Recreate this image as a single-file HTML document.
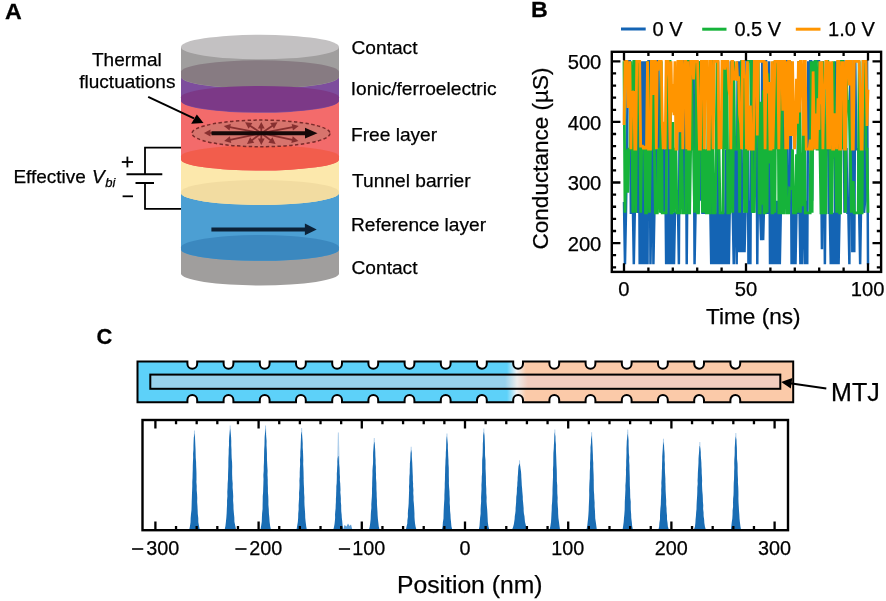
<!DOCTYPE html>
<html><head><meta charset="utf-8"><style>
html,body{margin:0;padding:0;background:#fff;}
svg{display:block;}
text{font-family:"Liberation Sans", sans-serif;fill:#000;stroke:#000;stroke-width:0.25px;}
</style></head><body>
<svg width="886" height="601" viewBox="0 0 886 601" style="will-change:transform">
<rect width="886" height="601" fill="#fff"/>
<g id="cyl">
<path d="M181.0,249.5 L181.0,273.5 A79.0,12.0 0 0 0 339.0,273.5 L339.0,249.5 Z" fill="#a09e9d"/>
<path d="M181.0,193.0 L181.0,249.5 A79.0,11.3 0 0 0 339.0,249.5 L339.0,193.0 Z" fill="#4c9fd3"/>
<path d="M181.0,159.5 L181.0,193.0 A79.0,12.0 0 0 0 339.0,193.0 L339.0,159.5 Z" fill="#fce8ac"/>
<path d="M181.0,100.8 L181.0,159.5 A79.0,11.0 0 0 0 339.0,159.5 L339.0,100.8 Z" fill="#f36b6b"/>
<path d="M181.0,76.8 L181.0,100.8 A79.0,12.0 0 0 0 339.0,100.8 L339.0,76.8 Z" fill="#7d4d9d"/>
<path d="M181.0,47.0 L181.0,76.8 A79.0,12.0 0 0 0 339.0,76.8 L339.0,47.0 Z" fill="#a09e9e"/>
<path d="M181.0,71.8 A79.0,11.5 0 0 1 339.0,71.8 L339.0,76.8 A79.0,11.5 0 0 1 181.0,76.8 Z" fill="#877b82"/>
<path d="M181.0,97.3 A79.0,11.3 0 0 1 339.0,97.3 L339.0,100.8 A79.0,11.3 0 0 1 181.0,100.8 Z" fill="#7c3987"/>
<path d="M181.0,156.5 A79.0,11.0 0 0 1 339.0,156.5 L339.0,159.5 A79.0,11.0 0 0 1 181.0,159.5 Z" fill="#f25d4c"/>
<path d="M181.0,192.0 A79.0,12.0 0 0 1 339.0,192.0 L339.0,193.0 A79.0,12.0 0 0 1 181.0,193.0 Z" fill="#f2dca1"/>
<path d="M181.0,247.5 A79.0,12.5 0 0 1 339.0,247.5 L339.0,249.5 A79.0,11.3 0 0 1 181.0,249.5 Z" fill="#3b88bf"/>
<ellipse cx="260.0" cy="47.0" rx="79.0" ry="12.2" fill="#c3c1c2" />
<ellipse cx="261" cy="133.4" rx="69" ry="13.3" fill="#d7746d" stroke="#7a2a2a" stroke-width="1.5" stroke-dasharray="3.4 2.4"/>
<line x1="261.3" y1="133.2" x2="210.00" y2="133.02" stroke="#873030" stroke-width="1.8"/>
<polygon points="204.00,133.00 210.51,129.62 210.49,136.42" fill="#873030"/>
<line x1="261.3" y1="133.2" x2="229.69" y2="127.13" stroke="#873030" stroke-width="1.8"/>
<polygon points="223.80,126.00 230.82,123.89 229.54,130.56" fill="#873030"/>
<line x1="261.3" y1="133.2" x2="250.08" y2="125.65" stroke="#873030" stroke-width="1.8"/>
<polygon points="245.10,122.30 252.39,123.11 248.59,128.75" fill="#873030"/>
<line x1="261.3" y1="133.2" x2="261.30" y2="128.00" stroke="#873030" stroke-width="1.8"/>
<polygon points="261.30,122.00 264.70,128.50 257.90,128.50" fill="#873030"/>
<line x1="261.3" y1="133.2" x2="272.52" y2="125.65" stroke="#873030" stroke-width="1.8"/>
<polygon points="277.50,122.30 274.01,128.75 270.21,123.11" fill="#873030"/>
<line x1="261.3" y1="133.2" x2="292.81" y2="127.13" stroke="#873030" stroke-width="1.8"/>
<polygon points="298.70,126.00 292.96,130.57 291.67,123.89" fill="#873030"/>
<line x1="261.3" y1="133.2" x2="230.07" y2="139.77" stroke="#873030" stroke-width="1.8"/>
<polygon points="224.20,141.00 229.86,136.34 231.26,142.99" fill="#873030"/>
<line x1="261.3" y1="133.2" x2="251.79" y2="140.38" stroke="#873030" stroke-width="1.8"/>
<polygon points="247.00,144.00 250.14,137.37 254.24,142.80" fill="#873030"/>
<line x1="261.3" y1="133.2" x2="261.30" y2="139.00" stroke="#873030" stroke-width="1.8"/>
<polygon points="261.30,145.00 257.90,138.50 264.70,138.50" fill="#873030"/>
<line x1="261.3" y1="133.2" x2="270.81" y2="140.38" stroke="#873030" stroke-width="1.8"/>
<polygon points="275.60,144.00 268.36,142.80 272.46,137.37" fill="#873030"/>
<line x1="261.3" y1="133.2" x2="292.53" y2="139.77" stroke="#873030" stroke-width="1.8"/>
<polygon points="298.40,141.00 291.34,142.99 292.74,136.34" fill="#873030"/>
<line x1="211.5" y1="133.2" x2="306" y2="133.2" stroke="#160808" stroke-width="4"/>
<polygon points="317.5,133.2 305,127.8 305,138.6" fill="#160808"/>
<line x1="211.4" y1="229.4" x2="306" y2="229.4" stroke="#0c2238" stroke-width="4"/>
<polygon points="316.7,229.4 304.9,223.6 304.9,235.2" fill="#0c2238"/>
</g>
<line x1="148.2" y1="96.8" x2="194" y2="118.3" stroke="#000" stroke-width="2"/>
<polygon points="203.5,123 191.2,123.8 196.8,114.4" fill="#000"/>
<polyline points="181,147.6 145,147.6 145,174.3" fill="none" stroke="#000" stroke-width="1.8"/>
<polyline points="181,208.8 145,208.8 145,183" fill="none" stroke="#000" stroke-width="1.8"/>
<line x1="126.5" y1="174.3" x2="162.3" y2="174.3" stroke="#000" stroke-width="2"/>
<line x1="135.5" y1="183" x2="154" y2="183" stroke="#000" stroke-width="2"/>
<line x1="121.8" y1="162" x2="133" y2="162" stroke="#000" stroke-width="1.8"/>
<line x1="127.4" y1="156.6" x2="127.4" y2="167.4" stroke="#000" stroke-width="1.8"/>
<line x1="122.6" y1="196.3" x2="133" y2="196.3" stroke="#000" stroke-width="1.8"/>
<text transform="translate(5.00,19.2) scale(1.08,1)" font-size="21.5" font-weight="bold" >A</text>
<text x="92.01" y="65.7" font-size="19" >Thermal</text>
<text x="79.31" y="88.4" font-size="19" >fluctuations</text>
<text x="13.38" y="182.9" font-size="19" >Effective</text>
<text x="91.89" y="182.9" font-size="19" font-style="italic" >V</text>
<text x="105.24" y="186.8" font-size="13" font-style="italic" >bi</text>
<text x="351.54" y="54.0" font-size="19.15" >Contact</text>
<text x="350.78" y="94.9" font-size="19.15" >Ionic/ferroelectric</text>
<text x="350.97" y="140.5" font-size="19.15" >Free layer</text>
<text x="352.12" y="186.6" font-size="19.15" >Tunnel barrier</text>
<text x="350.97" y="230.9" font-size="19.15" >Reference layer</text>
<text x="351.54" y="273.9" font-size="19.15" >Contact</text>
<clipPath id="clipB"><rect x="611.8" y="51.8" width="269.30000000000007" height="220.09999999999997"/></clipPath>
<g clip-path="url(#clipB)" fill="none" stroke-width="2.8" stroke-linejoin="miter" stroke-miterlimit="2">
<polyline points="624.00,201.9 624.98,264.3 625.96,212.8 626.94,149.2 627.92,61.3 628.90,61.3 629.88,61.3 630.86,212.8 631.84,212.8 632.82,200.7 633.80,264.3 634.78,212.8 635.76,61.3 636.74,200.7 637.72,212.8 638.70,61.3 639.68,264.3 640.66,61.3 641.64,264.3 642.62,61.3 643.60,264.3 644.58,61.3 645.56,264.3 646.54,61.3 647.52,264.3 648.50,61.3 649.48,61.3 650.46,264.3 651.44,200.7 652.42,61.3 653.40,264.3 654.38,212.8 655.36,149.2 656.34,200.7 657.32,61.3 658.30,61.3 659.28,149.2 660.26,149.2 661.24,212.8 662.22,149.2 663.20,149.2 664.18,212.8 665.16,149.2 666.14,264.3 667.12,212.8 668.10,264.3 669.08,61.3 670.06,264.3 671.04,212.8 672.02,264.3 673.00,212.8 673.98,264.3 674.96,212.8 675.94,212.8 676.92,212.8 677.90,200.7 678.88,264.3 679.86,61.3 680.84,200.7 681.82,61.3 682.80,61.3 683.78,212.8 684.76,61.3 685.73,61.3 686.71,264.3 687.69,149.2 688.67,61.3 689.65,61.3 690.63,149.2 691.61,61.3 692.59,61.3 693.57,61.3 694.55,264.3 695.53,212.8 696.51,61.3 697.49,200.7 698.47,212.8 699.45,61.3 700.43,200.7 701.41,149.2 702.39,212.8 703.37,212.8 704.35,212.8 705.33,200.7 706.31,200.7 707.29,212.8 708.27,200.7 709.25,200.7 710.23,200.7 711.21,264.3 712.19,61.3 713.17,264.3 714.15,212.8 715.13,264.3 716.11,212.8 717.09,264.3 718.07,61.3 719.05,264.3 720.03,212.8 721.01,264.3 721.99,212.8 722.97,264.3 723.95,212.8 724.93,264.3 725.91,149.2 726.89,264.3 727.87,149.2 728.85,264.3 729.83,200.7 730.81,61.3 731.79,200.7 732.77,212.8 733.75,264.3 734.73,149.2 735.71,200.7 736.69,264.3 737.67,61.3 738.65,252.2 739.63,61.3 740.61,252.2 741.59,149.2 742.57,252.2 743.55,212.8 744.53,252.2 745.51,212.8 746.49,61.3 747.47,61.3 748.45,264.3 749.43,200.7 750.41,264.3 751.39,61.3 752.37,61.3 753.35,212.8 754.33,149.2 755.31,61.3 756.29,61.3 757.27,264.3 758.25,149.2 759.23,149.2 760.21,212.8 761.19,240.1 762.17,61.3 763.15,240.1 764.13,200.7 765.11,61.3 766.09,61.3 767.07,212.8 768.05,212.8 769.03,61.3 770.01,264.3 770.99,149.2 771.97,264.3 772.95,149.2 773.93,264.3 774.91,200.7 775.89,264.3 776.87,200.7 777.85,264.3 778.83,212.8 779.81,264.3 780.79,212.8 781.77,149.2 782.75,212.8 783.73,212.8 784.71,61.3 785.69,61.3 786.67,61.3 787.65,212.8 788.63,200.7 789.61,200.7 790.59,61.3 791.57,264.3 792.55,212.8 793.53,264.3 794.51,212.8 795.49,264.3 796.47,212.8 797.45,212.8 798.43,61.3 799.41,200.7 800.39,264.3 801.37,200.7 802.35,264.3 803.33,149.2 804.31,212.8 805.29,264.3 806.27,200.7 807.24,264.3 808.22,61.3 809.20,149.2 810.18,61.3 811.16,61.3 812.14,200.7 813.12,61.3 814.10,149.2 815.08,61.3 816.06,61.3 817.04,61.3 818.02,61.3 819.00,61.3 819.98,149.2 820.96,149.2 821.94,249.2 822.92,61.3 823.90,149.2 824.88,264.3 825.86,149.2 826.84,149.2 827.82,61.3 828.80,212.8 829.78,212.8 830.76,264.3 831.74,212.8 832.72,264.3 833.70,212.8 834.68,264.3 835.66,61.3 836.64,264.3 837.62,61.3 838.60,264.3 839.58,212.8 840.56,200.7 841.54,61.3 842.52,61.3 843.50,61.3 844.48,212.8 845.46,149.2 846.44,149.2 847.42,212.8 848.40,212.8 849.38,264.3 850.36,61.3 851.34,61.3 852.32,252.2 853.30,149.2 854.28,252.2 855.26,61.3 856.24,149.2 857.22,149.2 858.20,149.2 859.18,212.8 860.16,264.3 861.14,200.7 862.12,200.7 863.10,61.3 864.08,212.8 865.06,200.7 866.04,61.3 867.02,61.3 868.00,264.3" stroke="#1464b4" stroke-width="2.5"/>
<polyline points="624.00,61.3 624.98,212.8 625.96,149.2 626.94,191.4 627.92,191.4 628.90,149.2 629.88,149.2 630.86,61.3 631.84,105.2 632.82,212.8 633.80,61.3 634.78,61.3 635.76,212.8 636.74,114.6 637.72,61.3 638.70,61.3 639.68,117.4 640.66,212.8 641.64,149.2 642.62,149.2 643.60,149.2 644.58,149.2 645.56,212.8 646.54,212.8 647.52,61.3 648.50,84.5 649.48,212.8 650.46,149.2 651.44,149.2 652.42,61.3 653.40,61.3 654.38,149.2 655.36,212.8 656.34,212.8 657.32,212.8 658.30,149.2 659.28,149.2 660.26,212.8 661.24,61.3 662.22,212.8 663.20,212.8 664.18,212.8 665.16,212.8 666.14,212.8 667.12,71.8 668.10,61.3 669.08,61.3 670.06,61.3 671.04,212.8 672.02,212.8 673.00,122.1 673.98,212.8 674.96,149.2 675.94,149.2 676.92,212.8 677.90,212.8 678.88,212.8 679.86,212.8 680.84,132.8 681.82,149.2 682.80,212.8 683.78,212.8 684.76,212.8 685.73,212.8 686.71,61.3 687.69,61.3 688.67,212.8 689.65,212.8 690.63,149.2 691.61,61.3 692.59,149.2 693.57,149.2 694.55,212.8 695.53,149.2 696.51,61.3 697.49,212.8 698.47,212.8 699.45,106.0 700.43,61.3 701.41,73.6 702.39,212.8 703.37,74.1 704.35,212.8 705.33,149.2 706.31,212.8 707.29,212.8 708.27,80.6 709.25,212.8 710.23,212.8 711.21,61.3 712.19,61.3 713.17,212.8 714.15,212.8 715.13,212.8 716.11,149.2 717.09,61.3 718.07,149.2 719.05,149.2 720.03,212.8 721.01,212.8 721.99,212.8 722.97,212.8 723.95,61.3 724.93,61.3 725.91,149.2 726.89,61.3 727.87,212.8 728.85,212.8 729.83,212.8 730.81,130.0 731.79,61.3 732.77,212.8 733.75,61.3 734.73,149.2 735.71,149.2 736.69,149.2 737.67,149.2 738.65,80.9 739.63,212.8 740.61,88.2 741.59,61.3 742.57,61.3 743.55,61.3 744.53,212.8 745.51,149.2 746.49,212.8 747.47,149.2 748.45,61.3 749.43,61.3 750.41,61.3 751.39,61.3 752.37,212.8 753.35,203.3 754.33,212.8 755.31,149.2 756.29,108.5 757.27,135.8 758.25,61.3 759.23,212.8 760.21,212.8 761.19,101.8 762.17,204.8 763.15,90.3 764.13,212.8 765.11,212.8 766.09,141.9 767.07,212.8 768.05,73.3 769.03,149.2 770.01,163.3 770.99,149.2 771.97,212.8 772.95,212.8 773.93,61.3 774.91,212.8 775.89,61.3 776.87,149.2 777.85,61.3 778.83,212.8 779.81,212.8 780.79,212.8 781.77,61.3 782.75,212.8 783.73,212.8 784.71,149.2 785.69,149.2 786.67,212.8 787.65,212.8 788.63,212.8 789.61,188.2 790.59,188.7 791.57,188.7 792.55,149.2 793.53,212.8 794.51,212.8 795.49,212.8 796.47,154.2 797.45,212.8 798.43,123.2 799.41,61.3 800.39,212.8 801.37,152.4 802.35,206.3 803.33,107.9 804.31,118.4 805.29,212.8 806.27,212.8 807.24,212.8 808.22,212.8 809.20,212.8 810.18,212.8 811.16,61.3 812.14,212.8 813.12,61.3 814.10,149.2 815.08,61.3 816.06,61.3 817.04,149.2 818.02,149.2 819.00,61.3 819.98,149.3 820.96,212.8 821.94,212.8 822.92,61.3 823.90,212.8 824.88,212.8 825.86,212.8 826.84,61.3 827.82,61.3 828.80,143.1 829.78,143.1 830.76,212.8 831.74,212.8 832.72,149.2 833.70,61.3 834.68,149.2 835.66,158.3 836.64,212.8 837.62,61.3 838.60,117.2 839.58,212.8 840.56,212.8 841.54,61.3 842.52,61.3 843.50,149.2 844.48,71.7 845.46,212.8 846.44,78.4 847.42,101.3 848.40,101.3 849.38,118.2 850.36,149.2 851.34,212.8 852.32,182.4 853.30,182.4 854.28,212.8 855.26,212.8 856.24,212.8 857.22,212.8 858.20,212.8 859.18,61.3 860.16,212.8 861.14,212.8 862.12,212.8 863.10,61.3 864.08,61.3 865.06,61.3 866.04,149.2 867.02,149.2 868.00,212.8" stroke="#16b33a" stroke-width="2.8"/>
<polyline points="624.00,124.9 624.98,61.3 625.96,61.3 626.94,61.3 627.92,106.5 628.90,106.5 629.88,61.3 630.86,149.2 631.84,92.5 632.82,92.5 633.80,91.2 634.78,149.2 635.76,149.2 636.74,61.3 637.72,61.3 638.70,61.3 639.68,61.3 640.66,146.1 641.64,146.1 642.62,146.1 643.60,149.2 644.58,146.1 645.56,149.2 646.54,146.1 647.52,61.3 648.50,149.2 649.48,149.2 650.46,149.2 651.44,61.3 652.42,61.3 653.40,95.0 654.38,61.3 655.36,61.3 656.34,149.2 657.32,61.3 658.30,70.5 659.28,61.3 660.26,61.3 661.24,61.3 662.22,121.9 663.20,149.2 664.18,121.9 665.16,149.2 666.14,61.3 667.12,61.3 668.10,61.3 669.08,79.2 670.06,149.2 671.04,61.3 672.02,112.4 673.00,84.1 673.98,115.2 674.96,61.3 675.94,149.2 676.92,149.2 677.90,61.3 678.88,61.3 679.86,132.3 680.84,61.3 681.82,61.3 682.80,149.2 683.78,87.5 684.76,61.3 685.73,61.3 686.71,149.2 687.69,61.3 688.67,149.2 689.65,149.2 690.63,61.3 691.61,61.3 692.59,61.3 693.57,79.4 694.55,61.3 695.53,61.3 696.51,61.3 697.49,61.3 698.47,107.1 699.45,149.2 700.43,149.2 701.41,61.3 702.39,61.3 703.37,61.3 704.35,149.2 705.33,61.3 706.31,61.3 707.29,61.3 708.27,149.2 709.25,149.2 710.23,61.3 711.21,61.3 712.19,101.5 713.17,149.2 714.15,61.3 715.13,61.3 716.11,61.3 717.09,61.3 718.07,61.3 719.05,149.2 720.03,134.4 721.01,149.2 721.99,61.3 722.97,61.3 723.95,61.3 724.93,69.6 725.91,61.3 726.89,61.3 727.87,61.3 728.85,89.0 729.83,95.7 730.81,149.2 731.79,61.3 732.77,61.3 733.75,79.1 734.73,79.1 735.71,79.1 736.69,61.3 737.67,80.9 738.65,76.4 739.63,114.9 740.61,123.5 741.59,149.2 742.57,61.3 743.55,61.3 744.53,76.9 745.51,76.9 746.49,149.2 747.47,61.3 748.45,149.2 749.43,149.2 750.41,105.6 751.39,149.2 752.37,149.2 753.35,149.2 754.33,61.3 755.31,61.3 756.29,61.3 757.27,135.6 758.25,61.3 759.23,61.3 760.21,61.3 761.19,61.3 762.17,61.3 763.15,61.3 764.13,61.3 765.11,149.2 766.09,61.3 767.07,78.9 768.05,93.3 769.03,81.9 770.01,149.2 770.99,149.2 771.97,61.3 772.95,149.2 773.93,103.8 774.91,61.3 775.89,61.3 776.87,61.3 777.85,61.3 778.83,149.2 779.81,61.3 780.79,61.3 781.77,61.3 782.75,110.8 783.73,61.3 784.71,61.3 785.69,149.2 786.67,61.3 787.65,149.2 788.63,61.3 789.61,61.3 790.59,134.5 791.57,134.5 792.55,61.3 793.53,116.2 794.51,149.2 795.49,134.0 796.47,78.7 797.45,123.7 798.43,61.3 799.41,112.4 800.39,61.3 801.37,61.3 802.35,89.0 803.33,135.8 804.31,61.3 805.29,61.3 806.27,149.2 807.24,149.2 808.22,149.2 809.20,149.2 810.18,139.7 811.16,149.2 812.14,149.2 813.12,71.4 814.10,125.3 815.08,149.2 816.06,113.5 817.04,149.2 818.02,98.2 819.00,129.9 819.98,61.3 820.96,104.3 821.94,61.3 822.92,149.2 823.90,88.0 824.88,88.0 825.86,61.3 826.84,61.3 827.82,149.2 828.80,61.3 829.78,149.2 830.76,81.8 831.74,61.3 832.72,149.2 833.70,149.2 834.68,114.7 835.66,114.7 836.64,149.2 837.62,61.3 838.60,61.3 839.58,149.2 840.56,149.2 841.54,61.3 842.52,100.1 843.50,61.3 844.48,149.2 845.46,149.2 846.44,61.3 847.42,61.3 848.40,61.3 849.38,85.5 850.36,61.3 851.34,61.3 852.32,149.2 853.30,149.2 854.28,61.3 855.26,61.3 856.24,61.3 857.22,61.3 858.20,61.3 859.18,61.3 860.16,94.4 861.14,149.2 862.12,149.2 863.10,61.3 864.08,61.3 865.06,61.3 866.04,61.3 867.02,125.9 868.00,89.8" stroke="#ff9500" stroke-width="2.8"/>
</g>
<rect x="611.8" y="51.8" width="269.3" height="220.1" fill="none" stroke="#000" stroke-width="2.4"/>
<path d="M624.00,271.9 v-8.6 M624.00,51.8 v8.6 M648.40,271.9 v-4.3 M648.40,51.8 v4.3 M672.80,271.9 v-4.3 M672.80,51.8 v4.3 M697.20,271.9 v-4.3 M697.20,51.8 v4.3 M721.60,271.9 v-4.3 M721.60,51.8 v4.3 M746.00,271.9 v-8.6 M746.00,51.8 v8.6 M770.40,271.9 v-4.3 M770.40,51.8 v4.3 M794.80,271.9 v-4.3 M794.80,51.8 v4.3 M819.20,271.9 v-4.3 M819.20,51.8 v4.3 M843.60,271.9 v-4.3 M843.60,51.8 v4.3 M868.00,271.9 v-8.6 M868.00,51.8 v8.6 M611.8,267.34 h4.3 M881.1,267.34 h-4.3 M611.8,255.22 h4.3 M881.1,255.22 h-4.3 M611.8,243.10 h8.6 M881.1,243.10 h-8.6 M611.8,230.98 h4.3 M881.1,230.98 h-4.3 M611.8,218.86 h4.3 M881.1,218.86 h-4.3 M611.8,206.74 h4.3 M881.1,206.74 h-4.3 M611.8,194.62 h4.3 M881.1,194.62 h-4.3 M611.8,182.50 h8.6 M881.1,182.50 h-8.6 M611.8,170.38 h4.3 M881.1,170.38 h-4.3 M611.8,158.26 h4.3 M881.1,158.26 h-4.3 M611.8,146.14 h4.3 M881.1,146.14 h-4.3 M611.8,134.02 h4.3 M881.1,134.02 h-4.3 M611.8,121.90 h8.6 M881.1,121.90 h-8.6 M611.8,109.78 h4.3 M881.1,109.78 h-4.3 M611.8,97.66 h4.3 M881.1,97.66 h-4.3 M611.8,85.54 h4.3 M881.1,85.54 h-4.3 M611.8,73.42 h4.3 M881.1,73.42 h-4.3 M611.8,61.30 h8.6 M881.1,61.30 h-8.6" stroke="#000" stroke-width="2.3" fill="none"/>
<text x="567.67" y="250.7" font-size="20.2" >200</text>
<text x="567.67" y="190.1" font-size="20.2" >300</text>
<text x="567.67" y="129.5" font-size="20.2" >400</text>
<text x="567.67" y="68.9" font-size="20.2" >500</text>
<text x="618.34" y="296.0" font-size="20.2" >0</text>
<text x="734.79" y="296.0" font-size="20.2" >50</text>
<text x="850.73" y="296.0" font-size="20.2" >100</text>
<text x="706.05" y="324.2" font-size="22.6" >Time (ns)</text>
<text transform="translate(548.4,158.5) rotate(-90)" font-size="22.5" text-anchor="middle">Conductance (µS)</text>
<line x1="621" y1="29" x2="645.7" y2="29" stroke="#1464b4" stroke-width="3"/>
<line x1="702.2" y1="29.2" x2="726.5" y2="29.2" stroke="#16b33a" stroke-width="3"/>
<line x1="795.8" y1="29.2" x2="820.5" y2="29.2" stroke="#ff9500" stroke-width="3"/>
<text x="652.50" y="36.3" font-size="20" >0 V</text>
<text x="734.40" y="36.3" font-size="20" >0.5 V</text>
<text x="828.10" y="36.3" font-size="20" >1.0 V</text>
<text transform="translate(531.07,17.2) scale(1.08,1)" font-size="21.5" font-weight="bold" >B</text>
<text transform="translate(96.62,344.2) scale(1.02,1)" font-size="21.5" font-weight="bold" >C</text>
<defs><linearGradient id="gw" gradientUnits="userSpaceOnUse" x1="137" y1="0" x2="793" y2="0"><stop offset="0.5640" stop-color="#5dd1f9"/><stop offset="0.5785" stop-color="#eef3f6"/><stop offset="0.5930" stop-color="#fbcaa9"/></linearGradient><linearGradient id="gi" gradientUnits="userSpaceOnUse" x1="137" y1="0" x2="793" y2="0"><stop offset="0.5610" stop-color="#98d2ec"/><stop offset="0.5793" stop-color="#eeeceb"/><stop offset="0.5960" stop-color="#f2cdbf"/></linearGradient></defs>
<path d="M137.5,361.5 L187.40,361.5 L187.40,363.8 A4.9,4.9 0 0 0 197.20,363.8 L197.20,361.5 L223.60,361.5 L223.60,363.8 A4.9,4.9 0 0 0 233.40,363.8 L233.40,361.5 L259.80,361.5 L259.80,363.8 A4.9,4.9 0 0 0 269.60,363.8 L269.60,361.5 L296.00,361.5 L296.00,363.8 A4.9,4.9 0 0 0 305.80,363.8 L305.80,361.5 L332.20,361.5 L332.20,363.8 A4.9,4.9 0 0 0 342.00,363.8 L342.00,361.5 L368.40,361.5 L368.40,363.8 A4.9,4.9 0 0 0 378.20,363.8 L378.20,361.5 L404.60,361.5 L404.60,363.8 A4.9,4.9 0 0 0 414.40,363.8 L414.40,361.5 L440.80,361.5 L440.80,363.8 A4.9,4.9 0 0 0 450.60,363.8 L450.60,361.5 L477.00,361.5 L477.00,363.8 A4.9,4.9 0 0 0 486.80,363.8 L486.80,361.5 L513.20,361.5 L513.20,363.8 A4.9,4.9 0 0 0 523.00,363.8 L523.00,361.5 L549.40,361.5 L549.40,363.8 A4.9,4.9 0 0 0 559.20,363.8 L559.20,361.5 L585.60,361.5 L585.60,363.8 A4.9,4.9 0 0 0 595.40,363.8 L595.40,361.5 L621.80,361.5 L621.80,363.8 A4.9,4.9 0 0 0 631.60,363.8 L631.60,361.5 L658.00,361.5 L658.00,363.8 A4.9,4.9 0 0 0 667.80,363.8 L667.80,361.5 L694.20,361.5 L694.20,363.8 A4.9,4.9 0 0 0 704.00,363.8 L704.00,361.5 L730.40,361.5 L730.40,363.8 A4.9,4.9 0 0 0 740.20,363.8 L740.20,361.5 L793.2,361.5 L793.2,402.2 L740.20,402.2 L740.20,399.9 A4.9,4.9 0 0 0 730.40,399.9 L730.40,402.2 L704.00,402.2 L704.00,399.9 A4.9,4.9 0 0 0 694.20,399.9 L694.20,402.2 L667.80,402.2 L667.80,399.9 A4.9,4.9 0 0 0 658.00,399.9 L658.00,402.2 L631.60,402.2 L631.60,399.9 A4.9,4.9 0 0 0 621.80,399.9 L621.80,402.2 L595.40,402.2 L595.40,399.9 A4.9,4.9 0 0 0 585.60,399.9 L585.60,402.2 L559.20,402.2 L559.20,399.9 A4.9,4.9 0 0 0 549.40,399.9 L549.40,402.2 L523.00,402.2 L523.00,399.9 A4.9,4.9 0 0 0 513.20,399.9 L513.20,402.2 L486.80,402.2 L486.80,399.9 A4.9,4.9 0 0 0 477.00,399.9 L477.00,402.2 L450.60,402.2 L450.60,399.9 A4.9,4.9 0 0 0 440.80,399.9 L440.80,402.2 L414.40,402.2 L414.40,399.9 A4.9,4.9 0 0 0 404.60,399.9 L404.60,402.2 L378.20,402.2 L378.20,399.9 A4.9,4.9 0 0 0 368.40,399.9 L368.40,402.2 L342.00,402.2 L342.00,399.9 A4.9,4.9 0 0 0 332.20,399.9 L332.20,402.2 L305.80,402.2 L305.80,399.9 A4.9,4.9 0 0 0 296.00,399.9 L296.00,402.2 L269.60,402.2 L269.60,399.9 A4.9,4.9 0 0 0 259.80,399.9 L259.80,402.2 L233.40,402.2 L233.40,399.9 A4.9,4.9 0 0 0 223.60,399.9 L223.60,402.2 L197.20,402.2 L197.20,399.9 A4.9,4.9 0 0 0 187.40,399.9 L187.40,402.2 L137.5,402.2 Z" fill="url(#gw)" stroke="#000" stroke-width="2"/>
<rect x="150.3" y="374.6" width="630" height="14.2" fill="url(#gi)" stroke="#000" stroke-width="2"/>
<line x1="826.3" y1="388.4" x2="790" y2="383.3" stroke="#000" stroke-width="2"/>
<polygon points="781.2,382.1 792.3,377.9 790.8,388.6" fill="#000"/>
<text x="831.10" y="400.8" font-size="25" >MTJ</text>
<clipPath id="clipH"><rect x="142.5" y="420.0" width="645.5" height="110.20000000000005"/></clipPath>
<g clip-path="url(#clipH)">
<polygon points="192.60,480.40 194.00,430.60 194.90,430.60 196.40,480.40" fill="#9cc3e6" opacity="0.8"/>
<polygon points="189.10,530.20 189.94,526.18 190.54,522.15 190.66,518.12 191.00,514.10 191.47,510.08 191.60,506.05 191.70,502.03 191.85,498.00 191.96,493.98 192.14,489.95 192.30,485.93 192.27,481.90 192.59,477.88 192.66,473.85 192.78,469.83 192.79,465.80 192.93,461.78 193.21,457.75 193.08,453.73 193.51,449.70 193.54,445.68 193.67,441.65 193.84,437.62 194.43,433.60 194.54,433.60 194.97,437.62 195.13,441.65 195.28,445.68 195.49,449.70 195.56,453.73 195.65,457.75 196.08,461.78 196.16,465.80 196.33,469.83 196.44,473.85 196.43,477.88 196.40,481.90 196.73,485.93 196.68,489.95 197.06,493.98 197.25,498.00 197.16,502.03 197.45,506.05 197.64,510.08 197.79,514.10 198.27,518.12 198.34,522.15 199.07,526.18 199.88,530.20" fill="#1a6db4"/>
<polygon points="228.30,477.80 229.70,425.40 230.60,425.40 232.10,477.80" fill="#9cc3e6" opacity="0.8"/>
<polygon points="224.51,530.20 225.43,525.96 225.92,521.72 226.35,517.48 226.64,513.23 226.81,508.99 227.05,504.75 227.04,500.51 227.41,496.27 227.29,492.03 227.55,487.78 227.65,483.54 227.99,479.30 228.04,475.06 228.20,470.82 228.39,466.57 228.39,462.33 228.46,458.09 228.69,453.85 228.70,449.61 228.99,445.37 228.96,441.12 229.24,436.88 229.68,432.64 230.09,428.40 230.11,428.40 230.64,432.64 231.09,436.88 231.26,441.12 231.18,445.37 231.43,449.61 231.45,453.85 231.61,458.09 232.07,462.33 232.20,466.57 232.11,470.82 232.15,475.06 232.29,479.30 232.69,483.54 232.62,487.78 233.00,492.03 233.23,496.27 233.08,500.51 233.45,504.75 233.53,508.99 233.90,513.23 234.33,517.48 234.43,521.72 235.30,525.96 236.18,530.20" fill="#1a6db4"/>
<polygon points="263.70,477.80 265.10,425.40 266.00,425.40 267.50,477.80" fill="#9cc3e6" opacity="0.8"/>
<polygon points="260.35,530.20 261.11,525.96 261.75,521.72 261.91,517.48 262.10,513.23 262.57,508.99 262.60,504.75 262.72,500.51 262.74,496.27 263.10,492.03 263.23,487.78 263.38,483.54 263.51,479.30 263.39,475.06 263.74,470.82 263.72,466.57 263.96,462.33 264.00,458.09 264.13,453.85 264.23,449.61 264.54,445.37 264.62,441.12 264.70,436.88 265.10,432.64 265.39,428.40 265.48,428.40 265.94,432.64 266.17,436.88 266.53,441.12 266.44,445.37 266.71,449.61 266.93,453.85 266.96,458.09 267.09,462.33 267.27,466.57 267.57,470.82 267.38,475.06 267.75,479.30 267.74,483.54 267.92,487.78 267.92,492.03 268.26,496.27 268.41,500.51 268.39,504.75 268.76,508.99 268.91,513.23 269.32,517.48 269.60,521.72 270.17,525.96 271.00,530.20" fill="#1a6db4"/>
<polygon points="299.80,479.10 301.20,428.00 302.10,428.00 303.60,479.10" fill="#9cc3e6" opacity="0.8"/>
<polygon points="296.46,530.20 297.13,526.07 297.82,521.93 298.16,517.80 298.23,513.67 298.64,509.53 298.59,505.40 298.86,501.27 299.11,497.13 299.04,493.00 299.39,488.87 299.52,484.73 299.41,480.60 299.77,476.47 299.73,472.33 299.88,468.20 300.17,464.07 299.97,459.93 300.41,455.80 300.38,451.67 300.69,447.53 300.78,443.40 300.93,439.27 301.02,435.13 301.50,431.00 301.45,431.00 302.08,435.13 302.37,439.27 302.67,443.40 302.61,447.53 303.01,451.67 303.16,455.80 303.28,459.93 303.13,464.07 303.35,468.20 303.48,472.33 303.55,476.47 303.69,480.60 303.84,484.73 304.08,488.87 304.10,493.00 304.44,497.13 304.38,501.27 304.53,505.40 304.84,509.53 305.13,513.67 305.23,517.80 305.67,521.93 306.17,526.07 306.93,530.20" fill="#1a6db4"/>
<polygon points="336.50,491.10 337.90,432.40 338.80,432.40 340.30,491.10" fill="#9cc3e6" opacity="0.8"/>
<polygon points="333.13,530.20 334.00,527.07 334.54,523.93 334.88,520.80 335.13,517.67 335.03,514.53 335.27,511.40 335.61,508.27 335.68,505.13 335.89,502.00 335.90,498.87 336.11,495.73 336.19,492.60 336.37,489.47 336.37,486.33 336.75,483.20 336.84,480.07 336.89,476.93 336.82,473.80 337.02,470.67 337.22,467.53 337.49,464.40 337.41,461.27 337.66,458.13 338.47,455.00 338.42,455.00 338.69,458.13 338.94,461.27 339.08,464.40 339.40,467.53 339.57,470.67 339.61,473.80 339.95,476.93 339.78,480.07 340.19,483.20 340.31,486.33 340.45,489.47 340.36,492.60 340.69,495.73 340.86,498.87 340.82,502.00 341.18,505.13 341.19,508.27 341.29,511.40 341.64,514.53 341.81,517.67 342.19,520.80 342.46,523.93 342.77,527.07 343.69,530.20" fill="#1a6db4"/>
<polygon points="372.40,484.15 373.80,438.10 374.70,438.10 376.20,484.15" fill="#9cc3e6" opacity="0.8"/>
<polygon points="368.85,530.20 369.72,526.49 370.25,522.78 370.66,519.06 370.78,515.35 370.97,511.64 371.36,507.93 371.31,504.21 371.56,500.50 371.85,496.79 371.99,493.08 371.99,489.36 372.14,485.65 372.23,481.94 372.37,478.23 372.52,474.51 372.47,470.80 372.72,467.09 373.03,463.38 373.14,459.66 373.06,455.95 373.16,452.24 373.53,448.53 373.79,444.81 374.28,441.10 374.22,441.10 374.79,444.81 375.10,448.53 375.26,452.24 375.30,455.95 375.56,459.66 375.55,463.38 375.86,467.09 375.83,470.80 376.05,474.51 376.02,478.23 376.30,481.94 376.43,485.65 376.45,489.36 376.67,493.08 376.73,496.79 376.96,500.50 376.97,504.21 377.22,507.93 377.47,511.64 377.62,515.35 377.90,519.06 378.35,522.78 378.77,526.49 379.67,530.20" fill="#1a6db4"/>
<polygon points="409.30,488.45 410.70,446.70 411.60,446.70 413.10,488.45" fill="#9cc3e6" opacity="0.8"/>
<polygon points="405.76,530.20 406.51,526.85 407.29,523.49 407.39,520.14 407.92,516.78 407.83,513.43 408.05,510.08 408.41,506.72 408.66,503.37 408.75,500.01 408.88,496.66 408.99,493.30 409.13,489.95 409.01,486.60 409.31,483.24 409.31,479.89 409.44,476.53 409.74,473.18 409.73,469.82 409.85,466.47 409.90,463.12 410.36,459.76 410.46,456.41 410.66,453.05 411.16,449.70 411.11,449.70 411.73,453.05 411.75,456.41 412.02,459.76 412.21,463.12 412.33,466.47 412.46,469.82 412.59,473.18 412.80,476.53 412.77,479.89 413.12,483.24 413.07,486.60 413.42,489.95 413.26,493.30 413.54,496.66 413.51,500.01 413.85,503.37 414.10,506.72 414.28,510.08 414.47,513.43 414.47,516.78 414.71,520.14 415.04,523.49 415.61,526.85 416.60,530.20" fill="#1a6db4"/>
<polygon points="445.10,481.90 446.50,433.60 447.40,433.60 448.90,481.90" fill="#9cc3e6" opacity="0.8"/>
<polygon points="441.69,530.20 442.63,526.30 442.86,522.40 443.48,518.50 443.57,514.60 443.69,510.70 443.88,506.80 444.09,502.90 444.37,499.00 444.38,495.10 444.55,491.20 444.74,487.30 444.74,483.40 444.95,479.50 444.97,475.60 445.14,471.70 445.20,467.80 445.44,463.90 445.56,460.00 445.82,456.10 445.84,452.20 446.12,448.30 446.25,444.40 446.38,440.50 446.81,436.60 446.98,436.60 447.34,440.50 447.83,444.40 447.81,448.30 448.09,452.20 448.18,456.10 448.41,460.00 448.46,463.90 448.73,467.80 448.78,471.70 448.76,475.60 448.89,479.50 448.90,483.40 449.11,487.30 449.46,491.20 449.55,495.10 449.78,499.00 449.69,502.90 449.99,506.80 450.07,510.70 450.46,514.60 450.65,518.50 451.08,522.40 451.41,526.30 452.42,530.20" fill="#1a6db4"/>
<polygon points="482.00,479.30 483.40,428.40 484.30,428.40 485.80,479.30" fill="#9cc3e6" opacity="0.8"/>
<polygon points="478.66,530.20 479.51,526.08 479.79,521.97 480.12,517.85 480.61,513.73 480.61,509.62 480.82,505.50 481.13,501.38 481.06,497.27 481.28,493.15 481.51,489.03 481.44,484.92 481.72,480.80 481.76,476.68 482.14,472.57 482.12,468.45 482.15,464.33 482.21,460.22 482.62,456.10 482.76,451.98 482.84,447.87 482.82,443.75 483.12,439.63 483.21,435.52 483.96,431.40 483.86,431.40 484.43,435.52 484.67,439.63 484.81,443.75 485.00,447.87 485.01,451.98 485.05,456.10 485.46,460.22 485.51,464.33 485.45,468.45 485.67,472.57 485.86,476.68 485.96,480.80 486.04,484.92 486.29,489.03 486.32,493.15 486.64,497.27 486.54,501.38 486.83,505.50 487.18,509.62 487.42,513.73 487.62,517.85 487.81,521.97 488.34,526.08 489.43,530.20" fill="#1a6db4"/>
<polygon points="517.70,495.25 519.10,460.30 520.00,460.30 521.50,495.25" fill="#9cc3e6" opacity="0.8"/>
<polygon points="511.78,530.20 512.94,527.41 513.78,524.62 514.22,521.84 514.63,519.05 514.78,516.26 515.23,513.48 515.57,510.69 515.59,507.90 515.89,505.11 516.11,502.33 516.19,499.54 516.29,496.75 516.71,493.96 516.88,491.18 516.90,488.39 517.29,485.60 517.34,482.81 517.62,480.03 517.66,477.24 517.94,474.45 518.10,471.66 518.28,468.88 518.60,466.09 519.60,463.30 519.58,463.30 520.16,466.09 520.56,468.88 521.03,471.66 521.24,474.45 521.33,477.24 521.52,480.03 521.68,482.81 521.80,485.60 522.11,488.39 522.29,491.18 522.54,493.96 522.79,496.75 522.80,499.54 523.10,502.33 523.34,505.11 523.62,507.90 523.66,510.69 523.91,513.48 524.47,516.26 524.71,519.05 524.96,521.84 525.65,524.62 526.33,527.41 527.48,530.20" fill="#1a6db4"/>
<polygon points="553.00,479.90 554.40,429.60 555.30,429.60 556.80,479.90" fill="#9cc3e6" opacity="0.8"/>
<polygon points="549.48,530.20 550.36,526.13 551.01,522.07 551.26,518.00 551.45,513.93 551.71,509.87 551.78,505.80 552.15,501.73 552.31,497.67 552.51,493.60 552.50,489.53 552.66,485.47 552.80,481.40 552.99,477.33 553.02,473.27 552.93,469.20 553.28,465.13 553.35,461.07 553.37,457.00 553.44,452.93 553.79,448.87 553.92,444.80 554.21,440.73 554.39,436.67 554.64,432.60 554.75,432.60 555.38,436.67 555.44,440.73 555.91,444.80 555.89,448.87 556.06,452.93 556.20,457.00 556.31,461.07 556.45,465.13 556.68,469.20 556.79,473.27 556.83,477.33 556.89,481.40 557.26,485.47 557.26,489.53 557.33,493.60 557.66,497.67 557.52,501.73 557.77,505.80 558.08,509.87 558.17,513.93 558.42,518.00 558.98,522.07 559.52,526.13 560.16,530.20" fill="#1a6db4"/>
<polygon points="589.80,481.25 591.20,432.30 592.10,432.30 593.60,481.25" fill="#9cc3e6" opacity="0.8"/>
<polygon points="586.30,530.20 587.20,526.25 587.64,522.29 588.10,518.34 588.41,514.38 588.65,510.43 588.77,506.48 588.96,502.52 589.13,498.57 589.24,494.61 589.15,490.66 589.27,486.70 589.42,482.75 589.73,478.80 589.76,474.84 589.83,470.89 590.11,466.93 590.03,462.98 590.35,459.03 590.36,455.07 590.58,451.12 590.52,447.16 590.97,443.21 591.08,439.25 591.50,435.30 591.48,435.30 592.03,439.25 592.24,443.21 592.45,447.16 592.61,451.12 592.87,455.07 592.95,459.03 593.27,462.98 593.22,466.93 593.37,470.89 593.56,474.84 593.65,478.80 593.76,482.75 593.79,486.70 593.87,490.66 594.17,494.61 594.30,498.57 594.64,502.52 594.60,506.48 594.93,510.43 595.11,514.38 595.22,518.34 595.83,522.29 596.38,526.25 596.92,530.20" fill="#1a6db4"/>
<polygon points="625.90,479.90 627.30,429.60 628.20,429.60 629.70,479.90" fill="#9cc3e6" opacity="0.8"/>
<polygon points="622.46,530.20 623.12,526.13 623.68,522.07 623.98,518.00 624.37,513.93 624.67,509.87 624.75,505.80 624.79,501.73 625.01,497.67 625.24,493.60 625.43,489.53 625.38,485.47 625.72,481.40 625.86,477.33 626.03,473.27 625.92,469.20 626.23,465.13 626.19,461.07 626.44,457.00 626.54,452.93 626.48,448.87 626.68,444.80 626.81,440.73 627.33,436.67 627.87,432.60 627.69,432.60 628.13,436.67 628.52,440.73 628.49,444.80 628.67,448.87 628.78,452.93 629.26,457.00 629.08,461.07 629.40,465.13 629.40,469.20 629.54,473.27 629.72,477.33 629.78,481.40 629.84,485.47 630.08,489.53 630.16,493.60 630.28,497.67 630.75,501.73 630.72,505.80 630.80,509.87 631.15,513.93 631.28,518.00 631.79,522.07 632.20,526.13 633.05,530.20" fill="#1a6db4"/>
<polygon points="661.60,484.50 663.00,438.80 663.90,438.80 665.40,484.50" fill="#9cc3e6" opacity="0.8"/>
<polygon points="658.30,530.20 659.14,526.52 659.43,522.83 659.99,519.15 660.01,515.47 660.17,511.78 660.43,508.10 660.80,504.42 660.89,500.73 661.07,497.05 661.23,493.37 661.18,489.68 661.44,486.00 661.38,482.32 661.66,478.63 661.78,474.95 661.82,471.27 662.02,467.58 662.06,463.90 662.27,460.22 662.25,456.53 662.55,452.85 662.80,449.17 663.03,445.48 663.34,441.80 663.35,441.80 664.02,445.48 664.15,449.17 664.48,452.85 664.63,456.53 664.51,460.22 664.88,463.90 664.76,467.58 664.93,471.27 665.14,474.95 665.34,478.63 665.32,482.32 665.56,486.00 665.60,489.68 665.78,493.37 665.99,497.05 666.21,500.73 666.17,504.42 666.52,508.10 666.62,511.78 667.00,515.47 667.00,519.15 667.53,522.83 667.87,526.52 669.01,530.20" fill="#1a6db4"/>
<polygon points="698.00,486.05 699.40,441.90 700.30,441.90 701.80,486.05" fill="#9cc3e6" opacity="0.8"/>
<polygon points="693.70,530.20 694.92,526.65 695.37,523.09 695.57,519.54 695.92,515.98 696.14,512.43 696.50,508.88 696.57,505.32 696.74,501.77 696.97,498.21 697.19,494.66 697.31,491.10 697.33,487.55 697.70,484.00 697.56,480.44 697.76,476.89 697.85,473.33 698.04,469.78 698.32,466.23 698.52,462.67 698.54,459.12 698.75,455.56 699.08,452.01 699.33,448.45 699.81,444.90 699.79,444.90 700.31,448.45 700.71,452.01 700.75,455.56 701.10,459.12 701.37,462.67 701.44,466.23 701.66,469.78 701.68,473.33 701.97,476.89 702.14,480.44 701.99,484.00 702.13,487.55 702.31,491.10 702.68,494.66 702.84,498.21 702.93,501.77 703.26,505.32 703.13,508.88 703.57,512.43 703.62,515.98 704.13,519.54 704.35,523.09 704.96,526.65 706.01,530.20" fill="#1a6db4"/>
<polygon points="734.00,481.60 735.40,433.00 736.30,433.00 737.80,481.60" fill="#9cc3e6" opacity="0.8"/>
<polygon points="730.68,530.20 731.33,526.28 731.75,522.35 732.31,518.43 732.54,514.50 732.60,510.58 733.06,506.65 733.03,502.73 733.11,498.80 733.50,494.88 733.62,490.95 733.65,487.03 733.75,483.10 734.02,479.18 734.14,475.25 734.20,471.33 734.40,467.40 734.27,463.48 734.36,459.55 734.68,455.62 734.75,451.70 734.73,447.77 734.99,443.85 735.24,439.93 735.89,436.00 735.73,436.00 736.42,439.93 736.54,443.85 736.84,447.77 736.96,451.70 736.98,455.62 737.05,459.55 737.48,463.48 737.60,467.40 737.55,471.33 737.70,475.25 737.98,479.18 737.94,483.10 738.25,487.03 738.40,490.95 738.45,494.88 738.41,498.80 738.54,502.73 738.80,506.65 739.00,510.58 739.32,514.50 739.52,518.43 739.91,522.35 740.43,526.28 741.12,530.20" fill="#1a6db4"/>
<polygon points="343,530.2 344.5,525 346.5,526.5 348,523.5 349.5,526 351,524.5 352.5,530.2" fill="#5a9bd3"/>
</g>
<rect x="142.5" y="420.0" width="645.5" height="110.2" fill="none" stroke="#000" stroke-width="2.4"/>
<path d="M155.40,530.2 v-8.6 M155.40,420.0 v8.6 M176.04,530.2 v-4.3 M176.04,420.0 v4.3 M196.68,530.2 v-4.3 M196.68,420.0 v4.3 M217.32,530.2 v-4.3 M217.32,420.0 v4.3 M237.96,530.2 v-4.3 M237.96,420.0 v4.3 M258.60,530.2 v-8.6 M258.60,420.0 v8.6 M279.24,530.2 v-4.3 M279.24,420.0 v4.3 M299.88,530.2 v-4.3 M299.88,420.0 v4.3 M320.52,530.2 v-4.3 M320.52,420.0 v4.3 M341.16,530.2 v-4.3 M341.16,420.0 v4.3 M361.80,530.2 v-8.6 M361.80,420.0 v8.6 M382.44,530.2 v-4.3 M382.44,420.0 v4.3 M403.08,530.2 v-4.3 M403.08,420.0 v4.3 M423.72,530.2 v-4.3 M423.72,420.0 v4.3 M444.36,530.2 v-4.3 M444.36,420.0 v4.3 M465.00,530.2 v-8.6 M465.00,420.0 v8.6 M485.64,530.2 v-4.3 M485.64,420.0 v4.3 M506.28,530.2 v-4.3 M506.28,420.0 v4.3 M526.92,530.2 v-4.3 M526.92,420.0 v4.3 M547.56,530.2 v-4.3 M547.56,420.0 v4.3 M568.20,530.2 v-8.6 M568.20,420.0 v8.6 M588.84,530.2 v-4.3 M588.84,420.0 v4.3 M609.48,530.2 v-4.3 M609.48,420.0 v4.3 M630.12,530.2 v-4.3 M630.12,420.0 v4.3 M650.76,530.2 v-4.3 M650.76,420.0 v4.3 M671.40,530.2 v-8.6 M671.40,420.0 v8.6 M692.04,530.2 v-4.3 M692.04,420.0 v4.3 M712.68,530.2 v-4.3 M712.68,420.0 v4.3 M733.32,530.2 v-4.3 M733.32,420.0 v4.3 M753.96,530.2 v-4.3 M753.96,420.0 v4.3 M774.60,530.2 v-8.6 M774.60,420.0 v8.6" stroke="#000" stroke-width="2.3" fill="none"/>
<text x="146.17" y="555.2" font-size="19.8" >300</text>
<rect x="132.06" y="548.2" width="11.2" height="1.6" fill="#000"/>
<text x="249.27" y="555.2" font-size="19.8" >200</text>
<rect x="235.36" y="548.2" width="11.2" height="1.6" fill="#000"/>
<text x="352.17" y="555.2" font-size="19.8" >100</text>
<rect x="338.86" y="548.2" width="11.2" height="1.6" fill="#000"/>
<text x="459.46" y="555.2" font-size="19.8" >0</text>
<text x="551.27" y="555.2" font-size="19.8" >100</text>
<text x="654.77" y="555.2" font-size="19.8" >200</text>
<text x="758.07" y="555.2" font-size="19.8" >300</text>
<text x="397.02" y="592.5" font-size="24.7" >Position (nm)</text>
</svg>
</body></html>
